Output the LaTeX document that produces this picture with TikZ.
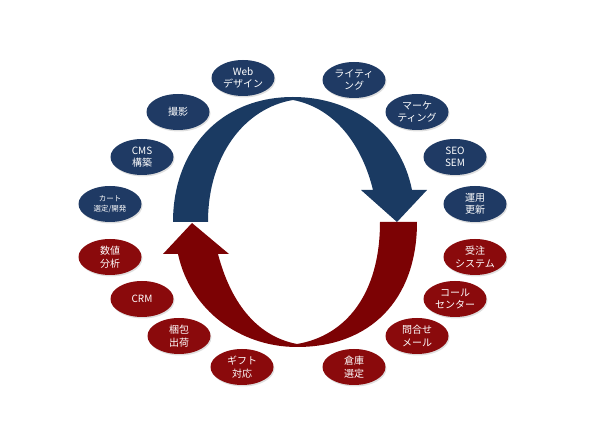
\documentclass[tikz,border=0pt]{standalone}
\usepackage{fontspec}
\setmainfont{Noto Sans CJK JP}
\usetikzlibrary{shapes.geometric,shadows}
\definecolor{navy}{HTML}{1F3A64}
\definecolor{navyarrow}{HTML}{1A3A62}
\definecolor{wine}{HTML}{8A0A0C}
\definecolor{winearrow}{HTML}{7C0204}
\tikzset{
  task/.style={ellipse,draw=none,minimum width=63pt,minimum height=36pt,inner sep=0pt,
    text=white,align=center,font=\fontsize{10}{12.5}\selectfont,
    drop shadow={opacity=0.25,shadow xshift=1pt,shadow yshift=-1.5pt}},
  front/.style={task,fill=navy},
  back/.style={task,fill=wine},
}

\begin{document}
\begin{tikzpicture}[x=1pt,y=-1pt]
  \useasboundingbox (0,0) rectangle (590,443);
  % Blue arrow (upper half)
  \fill[navyarrow] (173,222) .. controls (173,150) and (220,97) .. (293,97)
    .. controls (350,97) and (400,130) .. (412,190)
    -- (427,190) -- (397,222) -- (361,190) -- (373,190)
    .. controls (362,145) and (335,108) .. (293,100)
    .. controls (245,108) and (208,155) .. (208,222) -- cycle;
  % Red arrow (lower half)
  \fill[winearrow] (417,222) .. controls (417,300) and (370,347) .. (297,347)
    .. controls (240,347) and (190,310) .. (178,254)
    -- (163,254) -- (192,223) -- (229,254) -- (218,254)
    .. controls (230,300) and (255,336) .. (297,344)
    .. controls (345,336) and (380,295) .. (380,222) -- cycle;
  % Upper tasks
  \node[front] (web) at (243,78) {Web\\デザイン};
  \node[front] (satsuei) at (178,112) {撮影};
  \node[front] (cms) at (142,157) {CMS\\構築};
  \node[front,font=\fontsize{7.5}{10}\selectfont] (cart) at (110,204) {カート\\選定/開発};
  \node[front] (writing) at (354,80) {ライティ\\ング};
  \node[front] (marketing) at (417,112) {マーケ\\ティング};
  \node[front] (seo) at (455,157) {SEO\\SEM};
  \node[front] (unyou) at (475,204) {運用\\更新};
  % Lower tasks
  \node[back] (suuchi) at (110,257) {数値\\分析};
  \node[back] (crm) at (142,299) {CRM};
  \node[back] (konpou) at (179,336) {梱包\\出荷};
  \node[back] (gift) at (242,367) {ギフト\\対応};
  \node[back] (juchu) at (475,257) {受注\\システム};
  \node[back] (call) at (455,299) {コール\\センター};
  \node[back] (toiawase) at (417,336) {問合せ\\メール};
  \node[back] (souko) at (354,367) {倉庫\\選定};
\end{tikzpicture}
\end{document}
